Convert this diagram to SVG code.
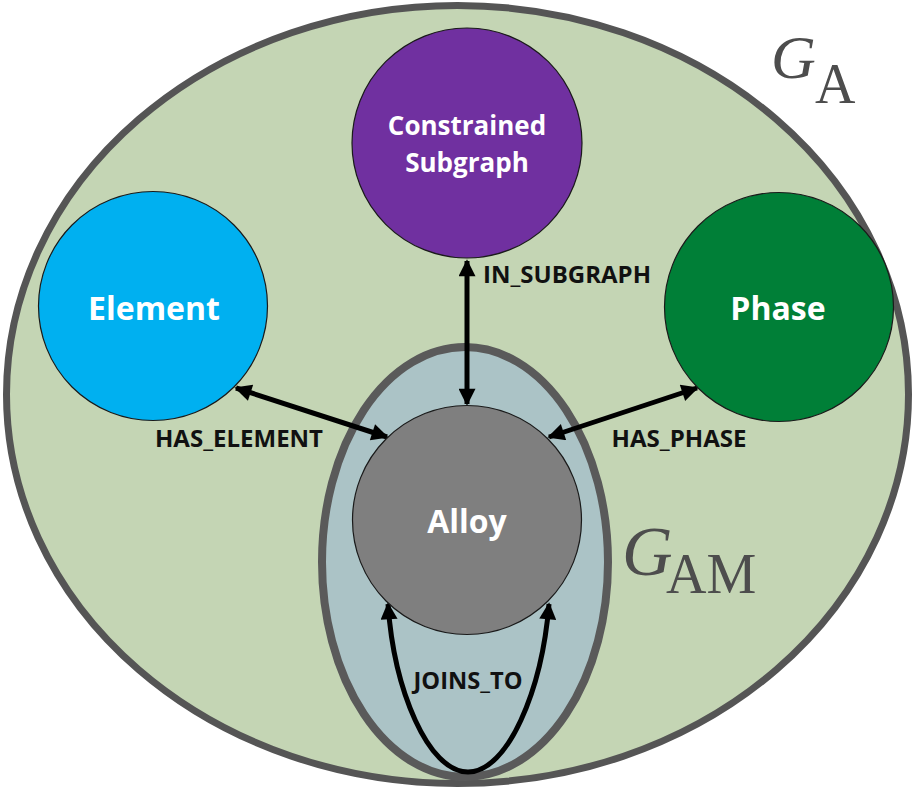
<svg xmlns="http://www.w3.org/2000/svg" width="915" height="788" viewBox="0 0 915 788">
  <style>
    .node { stroke: #1a1a1a; stroke-width: 1.2; }
    .big { font-family: "Open Sans", "Liberation Sans", sans-serif; font-weight: 700; fill: #ffffff; text-anchor: middle; }
    .edge { fill: none; stroke: #000000; stroke-width: 5; }
    .elabel { font-family: "Open Sans", "Liberation Sans", sans-serif; font-weight: 700; font-size: 23px; fill: #111111; text-anchor: middle; }
    .graph { font-family: "Liberation Serif", "DejaVu Serif", serif; fill: #4d4d4d; }
  </style>
  <defs>
    <marker id="tip" viewBox="0 0 10 10" refX="9" refY="5" markerWidth="19" markerHeight="17" markerUnits="userSpaceOnUse" orient="auto-start-reverse">
      <path d="M0,0 L10,5 L0,10 Z" fill="#000000"/>
    </marker>
  </defs>

  <rect width="915" height="788" fill="#ffffff"/>

  <!-- outer graph G_A -->
  <g id="graph-a">
    <ellipse cx="457.5" cy="394.5" rx="451" ry="389" fill="#c4d5b4" stroke="#555555" stroke-width="7"/>
    <text class="graph" x="771" y="78" font-size="62" font-style="italic">G</text>
    <text class="graph" x="815" y="103" font-size="56">A</text>
  </g>

  <!-- inner graph G_AM -->
  <g id="graph-am">
    <ellipse cx="465" cy="562" rx="143" ry="215" fill="#abc3c6" stroke="#5a5a5a" stroke-width="8"/>
    <text class="graph" x="622" y="575" font-size="70" font-style="italic">G</text>
    <text class="graph" x="666" y="593" font-size="56">AM</text>
  </g>

  <!-- connectors -->
  <g id="edges">
    <line class="edge" x1="467" y1="300" x2="467" y2="261" marker-end="url(#tip)"/>
    <line class="edge" x1="467" y1="300" x2="467" y2="404" marker-end="url(#tip)"/>
    <line class="edge" x1="236" y1="388" x2="387" y2="437" marker-start="url(#tip)" marker-end="url(#tip)"/>
    <line class="edge" x1="697" y1="388" x2="549" y2="437" marker-start="url(#tip)" marker-end="url(#tip)"/>
    <path class="edge" d="M388,604 C394,690 428,772 468,772 C508,772 542,690 549,604" marker-start="url(#tip)" marker-end="url(#tip)"/>
    <text class="elabel" x="567" y="283" textLength="168" lengthAdjust="spacingAndGlyphs">IN_SUBGRAPH</text>
    <text class="elabel" x="239" y="447" textLength="168" lengthAdjust="spacingAndGlyphs">HAS_ELEMENT</text>
    <text class="elabel" x="679" y="447" textLength="135" lengthAdjust="spacingAndGlyphs">HAS_PHASE</text>
    <text class="elabel" x="468" y="689" textLength="109" lengthAdjust="spacingAndGlyphs">JOINS_TO</text>
  </g>

  <g id="constrained-subgraph">
    <circle class="node" cx="467" cy="143" r="115" fill="#7030a0"/>
    <text class="big" x="467" y="135" font-size="26">Constrained</text>
    <text class="big" x="467" y="172" font-size="26">Subgraph</text>
  </g>

  <g id="element">
    <circle class="node" cx="153" cy="306" r="114.5" fill="#00b0f0"/>
    <text class="big" x="154" y="320" font-size="32">Element</text>
  </g>

  <g id="phase">
    <circle class="node" cx="779" cy="307" r="114.5" fill="#007f37"/>
    <text class="big" x="778" y="320" font-size="32">Phase</text>
  </g>

  <g id="alloy">
    <circle class="node" cx="467" cy="520" r="114.5" fill="#7f7f7f"/>
    <text class="big" x="467" y="533" font-size="32">Alloy</text>
  </g>
</svg>
